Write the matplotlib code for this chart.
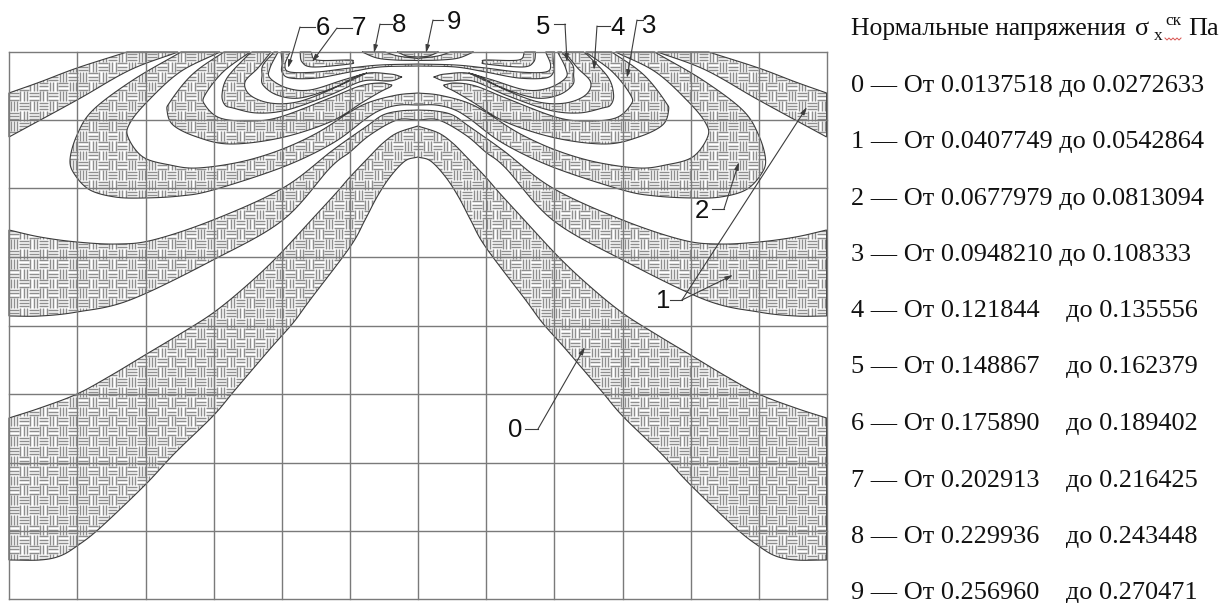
import numpy as np
import matplotlib
matplotlib.use("Agg")
import matplotlib.pyplot as plt
from matplotlib.path import Path
from matplotlib.patches import PathPatch
from matplotlib.collections import LineCollection

# Chart space: drawing units of the contour plot, y downwards
GRID_X = [9, 77, 145.5, 213.6, 281.7, 350, 417.8, 486, 554, 622.5, 690.5, 759, 826.7]
GRID_Y = [52, 120, 188, 256.5, 325.5, 394, 462.7, 530.7, 599]
AXIS_OF_SYMMETRY = 417.8

# Left half of each stress band: two edges, from the outer side to the centre / tip
BAND0_UPPER = [(9,418),(40,408),(77,394),(110,376),(145,355),(180,334),(213,313),(245,287),(277,257),(315,216),(337,192),(350,177),(370,156),(383,143),(397,133),(417.8,126)]
BAND0_LOWER = [(9,560),(40,560),(60,556),(77,546),(100,528),(145,485),(175,453),(213,416),(235,390),(270,349),(293,323),(310,300),(350,247),(365,220),(377,197),(390,177),(405,161),(417.8,157)]
BAND1_UPPER = [(9,230),(40,237),(77,242),(117,244),(153,240),(213,220),(283,188),(333,150),(367,126),(383,115),(400,111),(417.8,110)]
BAND1_LOWER = [(9,316),(40,316),(77,312),(130,300),(213,260),(283,220),(330,168),(350,152),(370,135),(397,120),(417.8,120)]
BAND1C_UPPER = [(9,93),(40,82),(77,68),(127,52)]
BAND1C_LOWER = [(9,137),(77,100),(130,70),(178,52)]
BAND2_OUTER = [(181,52),(133,80),(93,110),(77,135),(70,160),(75,175),(90,190),(115,197),(143,198),(180,196),(213,190),(283,167),(333,143),(367,118),(383,109),(400,105),(417.8,105)]
BAND2_INNER = [(220,52),(180,72),(147,102),(130,123),(128,137),(143,157),(170,165),(197,168),(240,162),(280,150),(317,133),(350,112),(370,102),(397,95),(417.8,93)]
BAND3_OUTER = [(224,52),(200,68),(185,82),(170,102),(167,110),(173,125),(197,137),(230,144),(280,138),(330,122),(363,102),(380,92),(390,87),(392,85)]
BAND3_INNER = [(250,52),(223,72),(205,95),(205,105),(220,118),(250,121),(280,117),(330,98),(360,86),(380,83),(392,85)]
BAND4_OUTER = [(252,52),(245,58),(227,78),(222,95),(225,105),(233,108),(257,113),(287,110),(330,95),(363,81),(390,81),(402,77)]
BAND4_INNER = [(271,52),(258,68),(245,82),(250,95),(270,103),(297,102),(330,90),(363,74),(390,74),(402,77)]
BAND5_OUTER = [(274,52),(263,65),(262,75),(263,85),(277,95),(300,98),(333,88),(367,73)]
BAND5_INNER = [(278,52),(270,68),(270,78),(287,88),(310,90),(343,80),(367,73)]
BAND6_OUTER = [(281,52),(282,63),(282,72),(290,78),(317,78),(350,72),(380,67),(417.8,66)]
BAND6_INNER = [(290,52),(285,65),(290,72),(317,72),(350,68),(380,65),(417.8,64)]
BAND7_OUTER = [(300,52),(302,62),(313,67),(350,64),(353,62)]
BAND7_INNER = [(311,52),(317,60),(350,60),(353,62)]
BAND8_OUTER = [(362,52),(377,58),(395,60),(417.8,60.5)]
BAND8_INNER = [(385,52),(398,56),(417.8,58.5)]
BAND9_OUTER = [(397,52),(407,56),(417.8,57)]

LEGEND_TITLE = "Нормальные напряжения"
LEGEND_ROWS = [
    "0 — От 0.0137518 до 0.0272633",
    "1 — От 0.0407749 до 0.0542864",
    "2 — От 0.0677979 до 0.0813094",
    "3 — От 0.0948210 до 0.108333",
    "4 — От 0.121844    до 0.135556",
    "5 — От 0.148867    до 0.162379",
    "6 — От 0.175890    до 0.189402",
    "7 — От 0.202913    до 0.216425",
    "8 — От 0.229936    до 0.243448",
    "9 — От 0.256960    до 0.270471",
]
LEGEND_BASELINES = [92, 148.4, 204.8, 261, 317, 373, 430, 486.5, 543, 599]

# label, label position, elbow polyline, arrow tips
LEADERS = [
    ("0", (515, 430), [(525, 429), (538, 429)], [(585, 347)]),
    ("1", (663, 301), [(670, 300), (682, 300)], [(807, 107), (733, 275)]),
    ("2", (702, 211), [(712, 209), (724, 209)], [(739, 162)]),
    ("3", (649, 26), [(643, 20), (637, 20)], [(627, 78)]),
    ("4", (618, 28), [(610, 26), (597, 26)], [(594, 70)]),
    ("5", (543, 27), [(554, 24), (565, 24)], [(567, 62)]),
    ("6", (323, 28), [(315, 27), (300, 27)], [(288, 68)]),
    ("7", (359, 28), [(352, 28), (337, 28)], [(312, 62)]),
    ("8", (399, 25), [(392, 24), (380, 24)], [(374, 53)]),
    ("9", (454, 22), [(443, 20), (433, 20)], [(426, 53)]),
]
WAVE_X = [1165, 1167, 1169, 1171, 1173, 1175, 1177, 1179, 1181]
WAVE_Y = [38, 40, 38, 40, 38, 40, 38, 40, 38]

TEXT_FONT = "Liberation Serif"
LABEL_FONT = "Liberation Sans"
LINE = "#3c3c3c"
GRID = "#7a7a7a"
WEAVE = "#8e8e8e"


def smooth(points, n=10):
    p = np.array(points, float)
    p = np.vstack([2 * p[0] - p[1], p, 2 * p[-1] - p[-2]])
    out = []
    for i in range(1, len(p) - 2):
        t = np.linspace(0, 1, n, endpoint=False)[:, None]
        a, b, c, d = p[i - 1], p[i], p[i + 1], p[i + 2]
        out.append(0.5 * (2 * b + (c - a) * t + (2 * a - 5 * b + 4 * c - d) * t ** 2
                          + (3 * b - a - 3 * c + d) * t ** 3))
    out.append(p[-2][None, :])
    return np.vstack(out)


def mirrored(xy):
    m = xy[::-1].copy()
    m[:, 0] = 2 * AXIS_OF_SYMMETRY - m[:, 0]
    return m


def closed(xy):
    xy = np.vstack([xy, xy[:1]])
    codes = [Path.MOVETO] + [Path.LINETO] * (len(xy) - 2) + [Path.CLOSEPOLY]
    return Path(xy, codes)


def crossing_band(a, b):
    ea, eb = smooth(a), smooth(b)
    return [closed(np.vstack([ea, mirrored(ea), mirrored(eb)[::-1], eb[::-1]]))]


def side_band(a, b):
    ea, eb = smooth(a), smooth(b)
    left = np.vstack([ea, eb[::-1]])
    return [closed(left), closed(mirrored(left))]


paths = []
paths += crossing_band(BAND0_UPPER, BAND0_LOWER)
paths += crossing_band(BAND1_UPPER, BAND1_LOWER)
paths += side_band(BAND1C_UPPER, BAND1C_LOWER)
paths += crossing_band(BAND2_OUTER, BAND2_INNER)
paths += side_band(BAND3_OUTER, BAND3_INNER)
paths += side_band(BAND4_OUTER, BAND4_INNER)
paths += side_band(BAND5_OUTER, BAND5_INNER)
paths += crossing_band(BAND6_OUTER, BAND6_INNER)
paths += side_band(BAND7_OUTER, BAND7_INNER)
paths += crossing_band(BAND8_OUTER, BAND8_INNER)
e9 = smooth(BAND9_OUTER)
paths.append(closed(np.vstack([e9, mirrored(e9)])))
bands = Path.make_compound_path(*paths)

fig = plt.figure(figsize=(12.25, 6.03), dpi=100)
ax = fig.add_axes([0, 0, 1, 1])
ax.set_xlim(0, 1225)
ax.set_ylim(603, 0)
ax.axis("off")

patch = PathPatch(bands, facecolor="white", edgecolor="none", zorder=1)
ax.add_patch(patch)

# basket-weave hatching
CELL = 9.85
OFFSETS = [1.6, 4.9, 8.2]
segs = []
for i, cx in enumerate(np.arange(GRID_X[0] - CELL, GRID_X[-1] + CELL, CELL)):
    for j, cy in enumerate(np.arange(GRID_Y[0] - CELL, GRID_Y[-1] + CELL, CELL)):
        for o in OFFSETS:
            if (i + j) % 2 == 0:
                segs.append([(cx, cy + o), (cx + CELL, cy + o)])
            else:
                segs.append([(cx + o, cy), (cx + o, cy + CELL)])
weave = LineCollection(segs, colors=WEAVE, linewidths=1.05, zorder=2)
ax.add_collection(weave)
weave.set_clip_path(patch)

ax.add_patch(PathPatch(bands, facecolor="none", edgecolor=LINE, linewidth=0.8, zorder=3))

for x in GRID_X:
    ax.plot([x, x], [GRID_Y[0], GRID_Y[-1]], color=GRID, lw=1.0, zorder=4, solid_capstyle="projecting")
for y in GRID_Y:
    ax.plot([GRID_X[0], GRID_X[-1]], [y, y], color=GRID, lw=1.0, zorder=4, solid_capstyle="projecting")

for label, pos, elbow, tips in LEADERS:
    ax.text(pos[0], pos[1], label, family=LABEL_FONT, fontsize=18.5, ha="center", va="center",
            color="#111111", zorder=6)
    xs, ys = zip(*elbow)
    ax.plot(xs, ys, color=LINE, lw=0.8, zorder=5)
    for tip in tips:
        ax.annotate("", xy=tip, xytext=elbow[-1], zorder=5,
                    arrowprops=dict(arrowstyle="-|>,head_length=0.5,head_width=0.14", lw=0.8, color=LINE,
                                    shrinkA=0, shrinkB=0, mutation_scale=9))

FS = 18.9
ax.text(851, 35, LEGEND_TITLE, family=TEXT_FONT, fontsize=18.45, color="#111111", va="baseline")
ax.text(1135, 35, "σ", family=TEXT_FONT, fontsize=FS, color="#111111", va="baseline")
ax.text(1154, 40, "x", family=TEXT_FONT, fontsize=12.5, color="#111111", va="baseline")
ax.text(1165, 25, "ск", family=TEXT_FONT, fontsize=12.5, color="#111111", va="baseline")
ax.text(1188, 35, "Па", family=TEXT_FONT, fontsize=FS, color="#111111", va="baseline")
ax.plot(WAVE_X, WAVE_Y, color="#d9534f", lw=0.7)
for row, y in zip(LEGEND_ROWS, LEGEND_BASELINES):
    ax.text(851, y, row, family=TEXT_FONT, fontsize=FS, color="#111111", va="baseline")

fig.savefig("out.png", dpi=100)
